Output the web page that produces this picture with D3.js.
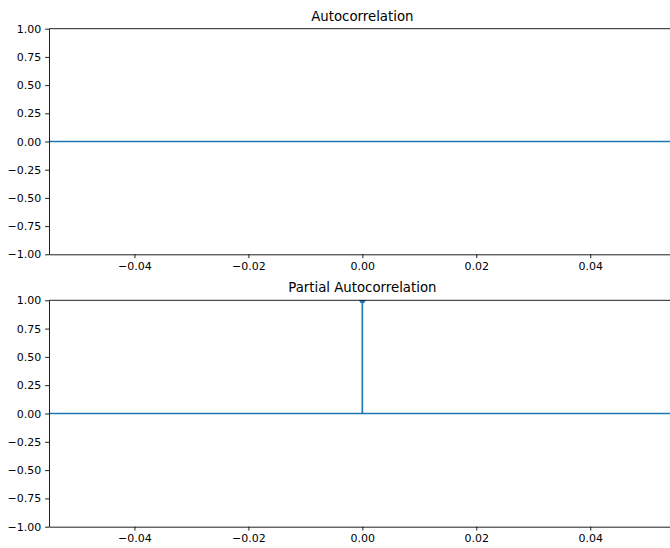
<!DOCTYPE html>
<html><head><meta charset="utf-8">
<script src="https://cdn.jsdelivr.net/npm/d3@7"></script>
<style>
body{margin:0;background:#fff;}
svg{display:block;}
text{font-family:"DejaVu Sans",sans-serif;}
</style></head>
<body>
<script>
const xTicks = [-0.04, -0.02, 0.00, 0.02, 0.04];
const yTicks = [-1.00, -0.75, -0.50, -0.25, 0.00, 0.25, 0.50, 0.75, 1.00];
const xDomain = [-0.055, 0.055];
const yDomain = [-1, 1];
const titles = ["Autocorrelation", "Partial Autocorrelation"];
// lags and values for each panel
const acfLags = [];
const acfValues = [];
const pacfLags = [0];
const pacfValues = [1.0];

const W = 670, H = 548;
const svg = d3.select("body").append("svg").attr("width", W).attr("height", H);
const color = "#1f77b4";
const fmtY = d => d3.format(".2f")(d).replace("-", "\u2212");
const fmtX = d => d3.format(".2f")(d).replace("-", "\u2212");

const left = 49, right = 675.7;
const panels = [
  {top: 28.7, bottom: 254.3, title: titles[0], lags: acfLags, vals: acfValues},
  {top: 300.3, bottom: 526.7, title: titles[1], lags: pacfLags, vals: pacfValues}
];

panels.forEach((p, i) => {
  const x = d3.scaleLinear().domain(xDomain).range([left, right]);
  const y = d3.scaleLinear().domain(yDomain).range([p.bottom, p.top]);
  const g = svg.append("g");
  const clipId = "clip" + i;
  svg.append("clipPath").attr("id", clipId).append("rect")
    .attr("x", left).attr("y", p.top).attr("width", right - left).attr("height", p.bottom - p.top);

  const plot = g.append("g").attr("clip-path", `url(#${clipId})`);
  // zero line
  plot.append("line").attr("x1", x(xDomain[0])).attr("x2", x(xDomain[1]))
    .attr("y1", y(0)).attr("y2", y(0)).attr("stroke", color).attr("stroke-width", 1.65);
  // stems
  plot.selectAll("line.stem").data(p.lags.map((l, k) => [l, p.vals[k]])).enter().append("line")
    .attr("class", "stem")
    .attr("x1", d => x(d[0])).attr("x2", d => x(d[0]))
    .attr("y1", y(0)).attr("y2", d => y(d[1]))
    .attr("stroke", color).attr("stroke-width", 1.65);
  plot.selectAll("circle").data(p.lags.map((l, k) => [l, p.vals[k]])).enter().append("circle")
    .attr("cx", d => x(d[0])).attr("cy", d => y(d[1])).attr("r", 3).attr("fill", color);

  // axes
  const ax = g.append("g").attr("transform", `translate(0,${p.bottom})`)
    .call(d3.axisBottom(x).tickValues(xTicks).tickFormat(fmtX).tickSize(3.85).tickPadding(3.85).tickSizeOuter(0));
  const ay = g.append("g").attr("transform", `translate(${left},0)`)
    .call(d3.axisLeft(y).tickValues(yTicks).tickFormat(fmtY).tickSize(3.85).tickPadding(3.85).tickSizeOuter(0));
  [ax, ay].forEach(a => {
    a.select(".domain").attr("stroke", "#000").attr("stroke-width", 0.88);
    a.selectAll(".tick line").attr("stroke", "#000").attr("stroke-width", 0.88);
    a.selectAll(".tick text").attr("fill", "#000").attr("font-size", "11px")
      .attr("font-family", "DejaVu Sans");
  });
  // top spine
  g.append("line").attr("x1", left).attr("x2", right).attr("y1", p.top).attr("y2", p.top)
    .attr("stroke", "#000").attr("stroke-width", 0.88);
  g.append("line").attr("x1", right).attr("x2", right).attr("y1", p.top).attr("y2", p.bottom)
    .attr("stroke", "#000").attr("stroke-width", 0.88);
  // title
  g.append("text").attr("x", (left + right) / 2).attr("y", p.top - 8)
    .attr("text-anchor", "middle").attr("font-size", "13.3px").attr("fill", "#000").text(p.title);
});
</script>
</body></html>
